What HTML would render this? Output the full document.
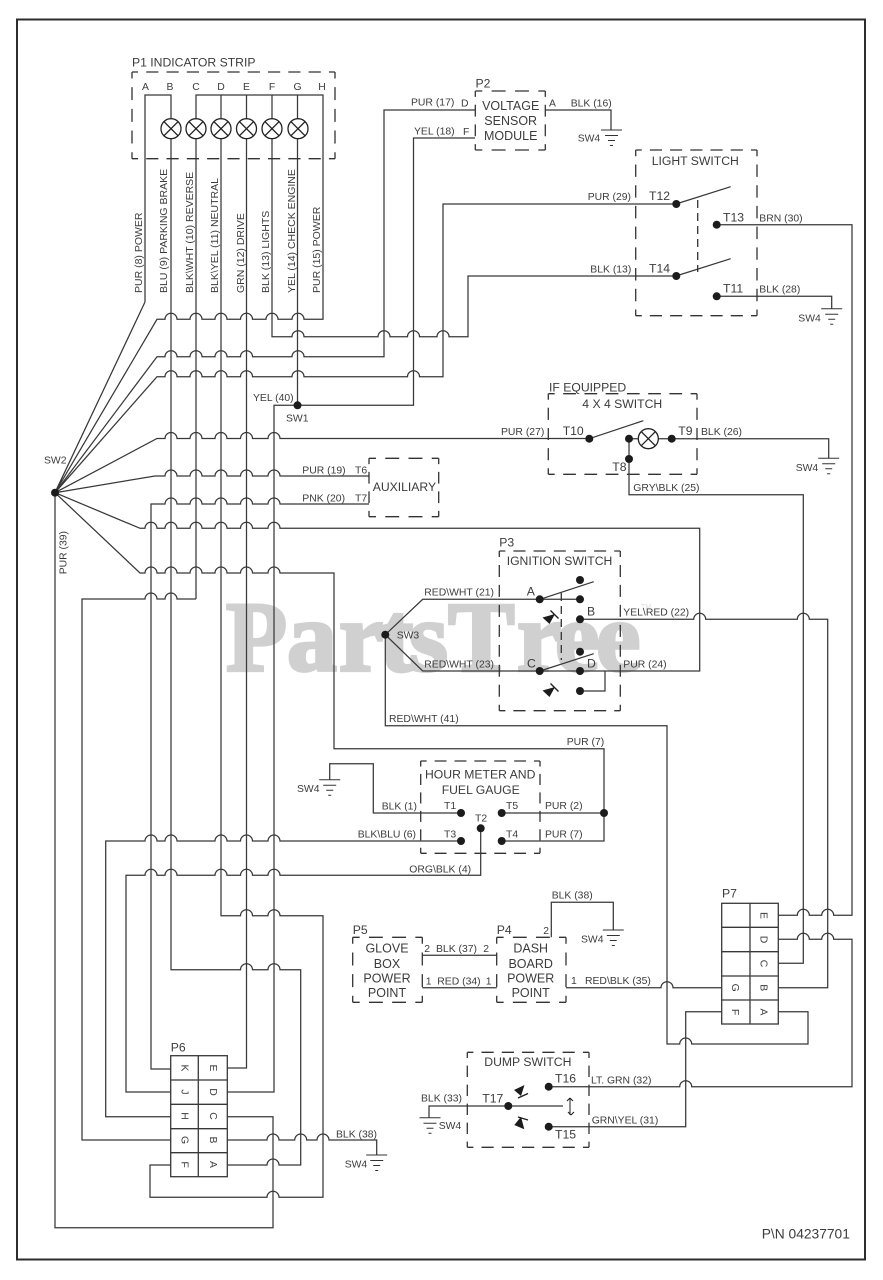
<!DOCTYPE html>
<html><head><meta charset="utf-8"><title>Wiring diagram</title>
<style>
html,body{margin:0;padding:0;background:#fff}
svg{display:block}
.w{fill:none;stroke:#383838;stroke-width:1.25}
.d path{fill:none;stroke:#333;stroke-width:1.3;stroke-dasharray:12 8;stroke-dashoffset:6}
.g{fill:none;stroke:#333;stroke-width:1}
text{font-family:"Liberation Sans",sans-serif;fill:#3c3c3c;font-size:10.4px}
.m{font-size:12.2px}
.c{font-size:12.5px;text-anchor:middle}
</style></head><body>
<svg width="883" height="1280" viewBox="0 0 883 1280" xmlns="http://www.w3.org/2000/svg">
<rect width="883" height="1280" fill="#fff"/>
<text x="226 287 339 380 409 448 517 555 596" y="670.5" style="font-family:'Liberation Serif',serif;font-weight:bold;font-size:100px;fill:#d0d0d0;stroke:#d0d0d0;stroke-width:3.2">PartsTree</text>
<text x="641" y="609" style="font-size:7px;fill:#dcdcdc">TM</text>
<rect x="17" y="19.5" width="848" height="1240" fill="none" stroke="#2c2c2c" stroke-width="2"/>

<!-- P1 -->
<g class="w">
<path d="M145 302V95H171V969.7H240.5a6 6 0 0 1 12 0H268a6 6 0 0 1 12 0H300.7V1165H279a6 6 0 0 0 -12 0H227.3"/>
<path d="M196 599V95H323V319.3H304a6 6 0 0 0 -12 0H278a6 6 0 0 0 -12 0H252.5a6 6 0 0 0 -12 0H227a6 6 0 0 0 -12 0H202a6 6 0 0 0 -12 0H177a6 6 0 0 0 -12 0H157L55 492.7L145 302"/>
<path d="M221 95V915.7H240.5a6 6 0 0 1 12 0H268a6 6 0 0 1 12 0H323V1197.3H279a6 6 0 0 0 -12 0H150V1165H170.7"/>
<path d="M246.5 95V1068H227.3"/>
<path d="M272 95V336.7H292a6 6 0 0 1 12 0H378a6 6 0 0 1 12 0H407.5a6 6 0 0 1 12 0H437a6 6 0 0 1 12 0H468V276H676"/>
<path d="M297.5 95V405.3"/>
<path d="M55 492.7L157 356.7H165a6 6 0 0 1 12 0H190a6 6 0 0 1 12 0H215a6 6 0 0 1 12 0H240.5a6 6 0 0 1 12 0H292a6 6 0 0 1 12 0H384V110H475"/>
<path d="M55 492.7L157 376.7H165a6 6 0 0 1 12 0H190a6 6 0 0 1 12 0H215a6 6 0 0 1 12 0H240.5a6 6 0 0 1 12 0H292a6 6 0 0 1 12 0H407.5a6 6 0 0 1 12 0H443V204H676"/>
<path d="M475 138H413.5V405.3H274V1092H227.3"/>
<path d="M55 492.7L157 438.5H165a6 6 0 0 1 12 0H190a6 6 0 0 1 12 0H215a6 6 0 0 1 12 0H240.5a6 6 0 0 1 12 0H268a6 6 0 0 1 12 0H589"/>
<path d="M55 492.7L155 476H165a6 6 0 0 1 12 0H190a6 6 0 0 1 12 0H215a6 6 0 0 1 12 0H240.5a6 6 0 0 1 12 0H268a6 6 0 0 1 12 0H369"/>
<path d="M369 504H280a6 6 0 0 0 -12 0H252.5a6 6 0 0 0 -12 0H227a6 6 0 0 0 -12 0H202a6 6 0 0 0 -12 0H177a6 6 0 0 0 -12 0H151V1069H170.7"/>
<path d="M55 492.7L140 528.3H145a6 6 0 0 1 12 0H165a6 6 0 0 1 12 0H190a6 6 0 0 1 12 0H215a6 6 0 0 1 12 0H240.5a6 6 0 0 1 12 0H268a6 6 0 0 1 12 0H699.7V671H580"/>
<path d="M55 492.7L140 573H145a6 6 0 0 1 12 0H165a6 6 0 0 1 12 0H190a6 6 0 0 1 12 0H215a6 6 0 0 1 12 0H240.5a6 6 0 0 1 12 0H268a6 6 0 0 1 12 0H334V748.7H604V841H501.7"/>
<path d="M501.7 813H604"/>
<path d="M196 599H177a6 6 0 0 0 -12 0H157a6 6 0 0 0 -12 0H82V1140H170.7"/>
<path d="M55 492.7V1227.7H273V1116.7H227.3"/>
<path d="M461 841H280a6 6 0 0 0 -12 0H252.5a6 6 0 0 0 -12 0H227a6 6 0 0 0 -12 0H177a6 6 0 0 0 -12 0H157a6 6 0 0 0 -12 0H105.7V1116.7H170.7"/>
<path d="M480.7 828.3V875.3H280a6 6 0 0 0 -12 0H252.5a6 6 0 0 0 -12 0H227a6 6 0 0 0 -12 0H177a6 6 0 0 0 -12 0H157a6 6 0 0 0 -12 0H126V1092H170.7"/>
<path d="M227.3 1140H267a6 6 0 0 1 12 0H294.7a6 6 0 0 1 12 0H317a6 6 0 0 1 12 0H376.7V1155"/>
<path d="M545.3 110H611V130"/>
<path d="M676 204L730.7 186.7M676 276L730.7 258.7"/>
<path d="M716.7 224.7H852V915.3H833.7a6 6 0 0 0 -12 0H809.3a6 6 0 0 0 -12 0H778.3"/>
<path d="M716.7 296.3H831.7V308.7"/>
<path d="M589.3 438.7L643.3 420.7M629 438.7V494.7H803.3V963.3H778.3"/>
<path d="M629 438.7H638.3M658.3 438.7H828.7V458.3"/>
<path d="M580 599.3H539.7H422.7L385.3 634.7L422.7 671H580"/>
<path d="M385.3 634.7V725.7H667V1044H679.7a6 6 0 0 1 12 0H808V1011.7H778.3"/>
<path d="M540 599.3L593.7 581.7M540 671L593.7 653.7"/>
<path d="M580 619.3H693.7a6 6 0 0 1 12 0H797.3a6 6 0 0 1 12 0H827.7V987.7H778.3"/>
<path d="M605 671V691H580"/>
<path d="M461 813H373.3V763.7H329.7V779.7"/>
<path d="M566 987.7H661a6 6 0 0 1 12 0H721.7"/>
<path d="M422.3 955.3H496.7M422.3 987.7H496.7"/>
<path d="M551.3 937.3V902.3H613.3V930"/>
<path d="M721.7 1011.7H685.7V1126.7H548.7"/>
<path d="M778.3 939.3H797.3a6 6 0 0 1 12 0H821.7a6 6 0 0 1 12 0H852V1086.7H691.7a6 6 0 0 0 -12 0H548.7"/>
<path d="M563 1106H429V1117.7"/>
</g>

<!-- lamps -->
<g fill="#fff" stroke="#222" stroke-width="1.3">
<circle cx="171" cy="128.7" r="10"/><circle cx="196" cy="128.7" r="10"/><circle cx="221" cy="128.7" r="10"/><circle cx="246.5" cy="128.7" r="10"/><circle cx="272" cy="128.7" r="10"/><circle cx="298" cy="128.7" r="10"/><circle cx="648.3" cy="438.7" r="10"/>
<path d="M164 121.7l14 14m0-14l-14 14M189 121.7l14 14m0-14l-14 14M214 121.7l14 14m0-14l-14 14M239.5 121.7l14 14m0-14l-14 14M265 121.7l14 14m0-14l-14 14M291 121.7l14 14m0-14l-14 14M641.3 431.7l14 14m0-14l-14 14" fill="none"/>
</g>

<!-- dashed boxes: each side starts and ends with a half dash -->
<g class="d">
<path pathLength="200" d="M132 72H335"/><path pathLength="200" d="M132 158.7H335"/><path pathLength="80" d="M132 72V158.7"/><path pathLength="80" d="M335 72V158.7"/>
<path pathLength="60" d="M475.3 91H545.3"/><path pathLength="60" d="M475.3 150H545.3"/><path pathLength="60" d="M475.3 91V150"/><path pathLength="60" d="M545.3 91V150"/>
<path pathLength="120" d="M635.7 150H757"/><path pathLength="120" d="M635.7 315.7H757"/><path pathLength="160" d="M635.7 150V315.7"/><path pathLength="160" d="M757 150V315.7"/>
<path pathLength="140" d="M548.3 393.7H697"/><path pathLength="140" d="M548.3 474.3H697"/><path pathLength="80" d="M548.3 393.7V474.3"/><path pathLength="80" d="M697 393.7V474.3"/>
<path pathLength="60" d="M369 458.3H438.7"/><path pathLength="60" d="M369 516.7H438.7"/><path pathLength="60" d="M369 458.3V516.7"/><path pathLength="60" d="M438.7 458.3V516.7"/>
<path pathLength="120" d="M499.3 551H620.3"/><path pathLength="120" d="M499.3 710.7H620.3"/><path pathLength="160" d="M499.3 551V710.7"/><path pathLength="160" d="M620.3 551V710.7"/>
<path pathLength="120" d="M420.7 761H540"/><path pathLength="120" d="M420.7 853.3H540"/><path pathLength="100" d="M420.7 761V853.3"/><path pathLength="100" d="M540 761V853.3"/>
<path pathLength="60" d="M352.7 937.3H422.3"/><path pathLength="60" d="M352.7 1002.3H422.3"/><path pathLength="60" d="M352.7 937.3V1002.3"/><path pathLength="60" d="M422.3 937.3V1002.3"/>
<path pathLength="60" d="M496.7 937.3H566"/><path pathLength="60" d="M496.7 1002.3H566"/><path pathLength="60" d="M496.7 937.3V1002.3"/><path pathLength="60" d="M566 937.3V1002.3"/>
<path pathLength="120" d="M467.3 1052.3H589"/><path pathLength="120" d="M467.3 1147.3H589"/><path pathLength="100" d="M467.3 1052.3V1147.3"/><path pathLength="100" d="M589 1052.3V1147.3"/>
<path style="stroke-dasharray:8 5;stroke-dashoffset:0" d="M697.7 200V272M561.3 593V660"/>
</g>

<!-- connectors -->
<g fill="#fff" stroke="#383838" stroke-width="1.3">
<rect x="170.7" y="1055.7" width="56.6" height="121"/>
<path d="M198.3 1055.7V1176.7M170.7 1080H227.3M170.7 1104.3H227.3M170.7 1128.7H227.3M170.7 1152.7H227.3" fill="none"/>
<rect x="721.7" y="903.3" width="56.6" height="120.7"/>
<path d="M750 903.3V1024M721.7 927.3H778.3M721.7 951.7H778.3M721.7 976H778.3M721.7 1000H778.3" fill="none"/>
</g>

<!-- grounds -->
<g class="g">
<path d="M601 130h21M605 135.5h13M608 140.5h7M610 145.5h3"/>
<path d="M821.2 308.7h21M825.2 314.2h13M828.2 319.2h7M830.2 324.2h3"/>
<path d="M818.2 458.3h21M822.2 463.8h13M825.2 468.8h7M827.2 473.8h3"/>
<path d="M319.2 779.7h21M323.2 785.2h13M326.2 790.2h7M328.2 795.2h3"/>
<path d="M602.8 930h21M606.8 935.5h13M609.8 940.5h7M611.8 945.5h3"/>
<path d="M366.2 1155h21M370.2 1160.5h13M373.2 1165.5h7M375.2 1170.5h3"/>
<path d="M419.5 1117.7h21M423.5 1123.2h13M426.5 1128.2h7M428.5 1133.2h3"/>
</g>

<!-- dots -->
<g fill="#1c1c1c">
<circle cx="55" cy="492.7" r="4"/><circle cx="297.5" cy="405.3" r="4"/><circle cx="385.3" cy="634.7" r="4"/>
<circle cx="676.3" cy="204" r="4"/><circle cx="676.3" cy="276" r="4"/><circle cx="716.7" cy="224.7" r="4"/><circle cx="716.7" cy="296.3" r="4"/>
<circle cx="589.3" cy="438.7" r="4"/><circle cx="629" cy="438.7" r="4"/><circle cx="629" cy="459" r="4"/><circle cx="671.7" cy="438.7" r="4"/>
<circle cx="539.7" cy="599.3" r="4"/><circle cx="580" cy="580" r="4"/><circle cx="580" cy="599.3" r="4"/><circle cx="580" cy="619.3" r="4"/><circle cx="580" cy="651.7" r="4"/><circle cx="539.7" cy="671" r="4"/><circle cx="580" cy="671" r="4"/><circle cx="580" cy="691" r="4"/>
<circle cx="461" cy="813" r="4"/><circle cx="461" cy="841" r="4"/><circle cx="480.7" cy="828.3" r="4"/><circle cx="501.7" cy="813" r="4"/><circle cx="501.7" cy="841" r="4"/><circle cx="604" cy="813" r="4"/>
<circle cx="548.7" cy="1086.7" r="4"/><circle cx="548.7" cy="1126.7" r="4"/><circle cx="508.3" cy="1106" r="4"/>
<path d="M542.5 617.5L549.5 624L555 614Z"/><path d="M542.5 690.5L549.5 697L555 687Z"/>
<path d="M514 1090L524.5 1085L521 1096Z"/><path d="M514.3 1125L521 1116.7L524.3 1129.3Z"/>
</g>
<g fill="none" stroke="#1c1c1c" stroke-width="1.3">
<path d="M550.5 610.5L558.5 618.5M550.5 683.5L558.5 691.5M518 1098L528 1093.5M518 1117L528 1120"/>
<path d="M570 1098V1115M570 1098l-3 3M570 1098l3 3M571 1115l-3-3M571 1115l3-3" stroke-width="1"/>
</g>

<!-- labels -->
<text class="m" x="132" y="66.5">P1 INDICATOR STRIP</text>
<g text-anchor="middle"><text x="145.5" y="90">A</text><text x="170" y="90">B</text><text x="196" y="90">C</text><text x="221" y="90">D</text><text x="246.5" y="90">E</text><text x="272" y="90">F</text><text x="297.5" y="90">G</text><text x="322" y="90">H</text></g>
<g>
<text style="font-size:10.5px" transform="translate(142 293) rotate(-90)">PUR (8) POWER</text>
<text style="font-size:10.5px" transform="translate(167 293) rotate(-90)">BLU (9) PARKING BRAKE</text>
<text style="font-size:10.5px" transform="translate(193 293) rotate(-90)">BLK\WHT (10) REVERSE</text>
<text style="font-size:10.5px" transform="translate(218 293) rotate(-90)">BLK\YEL (11) NEUTRAL</text>
<text style="font-size:10.5px" transform="translate(244 293) rotate(-90)">GRN (12) DRIVE</text>
<text style="font-size:10.5px" transform="translate(269 293) rotate(-90)">BLK (13) LIGHTS</text>
<text style="font-size:10.5px" transform="translate(295 293) rotate(-90)">YEL (14) CHECK ENGINE</text>
<text style="font-size:10.5px" transform="translate(320 293) rotate(-90)">PUR (15) POWER</text>
</g>
<text x="411" y="105.7">PUR (17)</text><text x="461" y="106.5">D</text>
<text x="414" y="134.3">YEL (18)</text><text x="463" y="135">F</text>
<text class="m" x="475.5" y="87.5">P2</text>
<text class="c" x="510.7" y="110">VOLTAGE</text><text class="c" x="510.7" y="125">SENSOR</text><text class="c" x="510.7" y="140">MODULE</text>
<text x="549" y="106.5">A</text><text x="570.7" y="106.5">BLK (16)</text><text x="577.7" y="141.7">SW4</text>
<text class="m" x="651.7" y="165">LIGHT SWITCH</text>
<text x="587.7" y="200">PUR (29)</text><text class="m" x="649" y="200">T12</text>
<text class="m" x="723" y="221.3">T13</text><text x="759.3" y="221.3">BRN (30)</text>
<text x="590.3" y="272.7">BLK (13)</text><text class="m" x="649" y="272.7">T14</text>
<text class="m" x="723" y="292.7">T11</text><text x="759.3" y="292.7">BLK (28)</text>
<text x="798.3" y="321.7">SW4</text>
<text class="m" x="549" y="391.7">IF EQUIPPED</text><text class="m" x="582.3" y="408">4 X 4 SWITCH</text>
<text x="501" y="435">PUR (27)</text><text class="m" x="562.7" y="435">T10</text><text class="m" x="678.3" y="435">T9</text><text x="701" y="435">BLK (26)</text>
<text class="m" x="612.3" y="471">T8</text><text x="795.7" y="471">SW4</text>
<text x="633.3" y="491">GRY\BLK (25)</text>
<text x="253" y="401">YEL (40)</text><text x="286" y="421.7">SW1</text><text x="44" y="463.3">SW2</text>
<text transform="translate(66.7 574.3) rotate(-90)">PUR (39)</text>
<text x="302.3" y="473.3">PUR (19)</text><text x="355" y="473.3">T6</text>
<text x="302.3" y="501.3">PNK (20)</text><text x="355" y="501.3">T7</text>
<text class="m" x="372.7" y="491">AUXILIARY</text>
<text x="396.7" y="638.7">SW3</text>
<text class="m" x="499.3" y="546.7">P3</text><text class="m" x="506.7" y="565">IGNITION SWITCH</text>
<text x="424.3" y="595.7">RED\WHT (21)</text><text x="424.3" y="667.3">RED\WHT (23)</text>
<text class="m" x="526.7" y="595.7">A</text><text class="m" x="587" y="615.7">B</text><text class="m" x="527" y="667.3">C</text><text class="m" x="587" y="667.3">D</text>
<text x="623.3" y="615.7">YEL\RED (22)</text><text x="623.3" y="667.7">PUR (24)</text>
<text x="389" y="722">RED\WHT (41)</text><text x="566.7" y="745">PUR (7)</text>
<text class="m" x="425" y="778.7">HOUR METER AND</text><text class="m" x="441.7" y="794">FUEL GAUGE</text>
<text x="444" y="809">T1</text><text x="506" y="809">T5</text><text x="545" y="809">PUR (2)</text>
<text x="475" y="821.7">T2</text><text x="444" y="837.7">T3</text><text x="506" y="837.7">T4</text><text x="545" y="837.7">PUR (7)</text>
<text x="381.7" y="809.3">BLK (1)</text><text x="357.7" y="837.7">BLK\BLU (6)</text><text x="409.3" y="872.3">ORG\BLK (4)</text>
<text x="297" y="792">SW4</text>
<text x="551.7" y="898.3">BLK (38)</text><text class="m" x="496.7" y="934">P4</text><text x="543.3" y="934">2</text><text x="581" y="942.7">SW4</text>
<text class="m" x="352.7" y="934">P5</text>
<text class="c" x="387" y="952.7">GLOVE</text><text class="c" x="387" y="968">BOX</text><text class="c" x="387" y="982.3">POWER</text><text class="c" x="387" y="997">POINT</text>
<text class="c" x="530.7" y="952.7">DASH</text><text class="c" x="530.7" y="968">BOARD</text><text class="c" x="530.7" y="982.3">POWER</text><text class="c" x="530.7" y="997">POINT</text>
<text x="424.3" y="952">2</text><text x="436" y="952">BLK (37)</text><text x="483.3" y="952">2</text>
<text x="425.7" y="984.7">1</text><text x="437.3" y="984.7">RED (34)</text><text x="485.7" y="984.7">1</text>
<text x="571" y="984">1</text><text x="585" y="984">RED\BLK (35)</text>
<text class="m" x="722" y="897.7">P7</text><text class="m" x="170.7" y="1051.7">P6</text>
<g text-anchor="middle">
<text transform="translate(181.5 1068) rotate(90)">K</text><text transform="translate(181.5 1092) rotate(90)">J</text><text transform="translate(181.5 1116) rotate(90)">H</text><text transform="translate(181.5 1140) rotate(90)">G</text><text transform="translate(181.5 1164.5) rotate(90)">F</text>
<text transform="translate(209.8 1068) rotate(90)">E</text><text transform="translate(209.8 1092) rotate(90)">D</text><text transform="translate(209.8 1116) rotate(90)">C</text><text transform="translate(209.8 1140) rotate(90)">B</text><text transform="translate(209.8 1164.5) rotate(90)">A</text>
<text transform="translate(760.5 915.5) rotate(90)">E</text><text transform="translate(760.5 939.5) rotate(90)">D</text><text transform="translate(760.5 963.5) rotate(90)">C</text><text transform="translate(760.5 987.7) rotate(90)">B</text><text transform="translate(760.5 1012) rotate(90)">A</text>
<text transform="translate(732.2 987.7) rotate(90)">G</text><text transform="translate(732.2 1012) rotate(90)">F</text>
</g>
<text x="336" y="1137.3">BLK (38)</text><text x="344.7" y="1167.7">SW4</text>
<text class="m" x="484.3" y="1066">DUMP SWITCH</text>
<text class="m" x="555" y="1082.7">T16</text><text x="591" y="1083.3">LT. GRN (32)</text>
<text class="m" x="482.3" y="1102.3">T17</text><text x="421" y="1101.7">BLK (33)</text>
<text class="m" x="555" y="1138.3">T15</text><text x="591.7" y="1123.3">GRN\YEL (31)</text>
<text x="438.7" y="1129">SW4</text>
<text x="761.7" y="1238.7" style="font-size:13.8px">P\N 04237701</text>
</svg>
</body></html>
